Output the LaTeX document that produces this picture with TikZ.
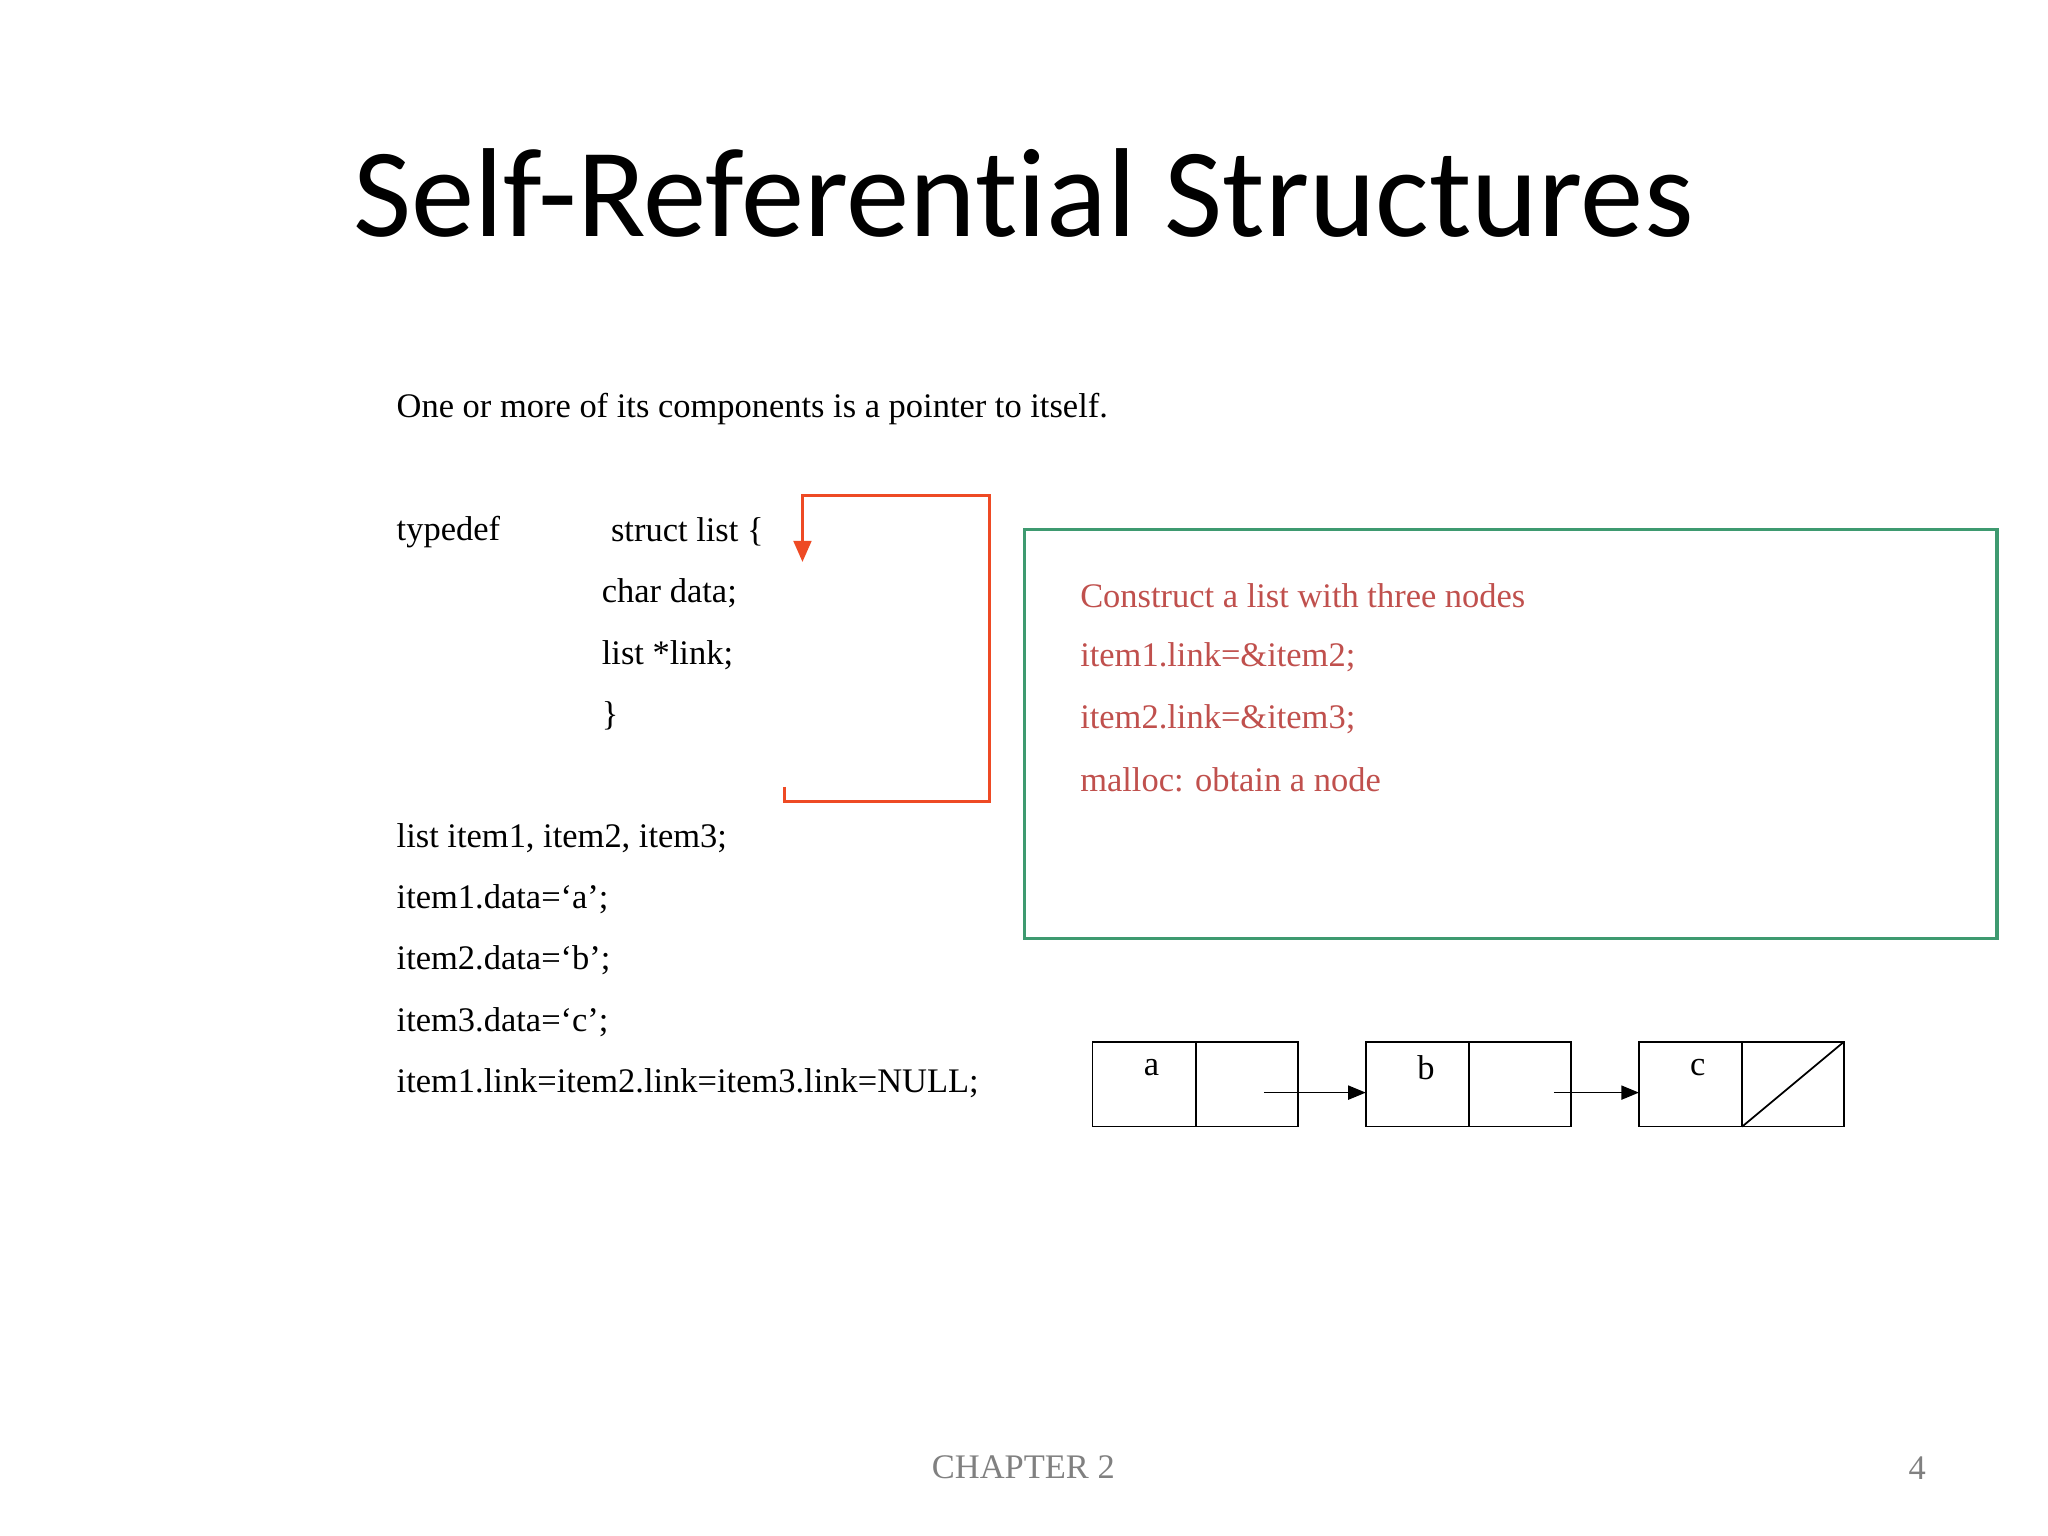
\documentclass[tikz,border=0pt]{standalone}
\usepackage{fontspec}
\setmainfont{Liberation Serif}
\newfontfamily\titlefont[Ligatures=NoCommon]{Carlito}
\usetikzlibrary{arrows.meta}
\definecolor{redline}{HTML}{EE4A24}
\definecolor{greenbox}{HTML}{3E9A70}
\definecolor{redtext}{HTML}{C0504D}
\begin{document}
\begin{tikzpicture}[x=0.013067cm,y=-0.013067cm,
  txt/.style={anchor=west,inner sep=0pt,font=\fontsize{9.8}{11}\selectfont},
  rtxt/.style={txt,text=redtext},
  cell/.style={draw,line width=0.5pt},
  arr/.style={-{Triangle[length=5pt,width=4pt]},line width=0.5pt}]
\fill[white] (0,0) rectangle (1567,1175);
\useasboundingbox (0,0) rectangle (1567,1175);
\node[inner sep=0pt,font=\titlefont\fontsize{36}{40}\selectfont] (title) at (783,148) {Self-Referential Structures};
\node[txt] (intro) at (303,313) {One or more of its components is a pointer to itself.};
\node[txt] (td) at (303,407) {typedef};
\node[txt] (sl) at (467,407) {struct list \{};
\node[txt] (cd) at (460,454) {char data;};
\node[txt] (lk) at (460,501) {list *link;};
\node[txt] (cb) at (460,548) {\}};
\node[txt] (l1) at (303,641) {list item1, item2, item3;};
\node[txt] (l2) at (303,688) {item1.data=‘a’;};
\node[txt] (l3) at (303,735) {item2.data=‘b’;};
\node[txt] (l4) at (303,782) {item3.data=‘c’;};
\node[txt] (l5) at (303,829) {item1.link=item2.link=item3.link=NULL;};
\coordinate (rs) at (600,602);
\coordinate (re) at (614,430);
\draw[redline,line width=0.9pt,-{Triangle[length=6pt,width=5pt]}] (rs) -- (600,613) -- (757,613) -- (757,379) -- (614,379) -- (re);
\draw[greenbox,line width=0.9pt] (784,405) rectangle (1528,718);
\node[rtxt] (r1) at (826,456) {Construct a list with three nodes};
\node[rtxt] (r2) at (826,503) {item1.link=\&item2;};
\node[rtxt] (r3) at (826,550) {item2.link=\&item3;};
\node[rtxt] (r4) at (826,597) {malloc: obtain a node};
\draw[cell] (836,797) rectangle (915,862) (915,797) rectangle (993,862);
\draw[cell] (1045,797) rectangle (1124,862) (1124,797) rectangle (1202,862);
\draw[cell] (1254,797) rectangle (1333,862) (1333,797) rectangle (1411,862);
\draw[cell] (1333,862) -- (1411,797);
\node[txt,anchor=center] (a) at (881,817) {a};
\node[txt,anchor=center] (b) at (1091,817) {b};
\node[txt,anchor=center] (c) at (1299,817) {c};
\coordinate (pa) at (967,836); \coordinate (nb) at (1045,836);
\coordinate (pb) at (1189,836); \coordinate (nc) at (1254,836);
\draw[arr] (pa) -- (nb);
\draw[arr] (pb) -- (nc);
\node[txt,anchor=center,text=gray] (ch) at (783,1123) {CHAPTER 2};
\node[txt,anchor=center,text=gray] (pg) at (1467,1123) {4};
\end{tikzpicture}
\end{document}
